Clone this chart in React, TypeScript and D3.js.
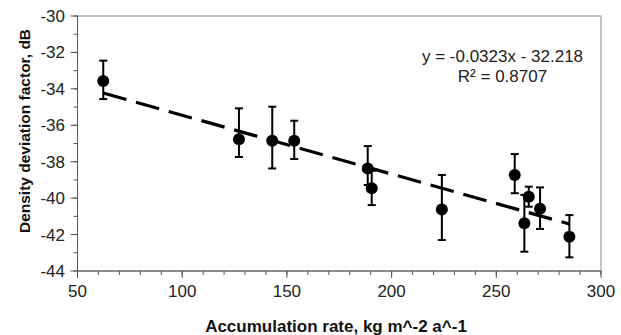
import React from "react";
import * as d3 from "d3";

const xValues = [62.3, 127.1, 143.0, 153.5, 188.6, 190.5, 224.0, 258.8, 265.5, 263.4, 270.9, 284.9];
const yValues = [-33.57, -36.77, -36.85, -36.85, -38.37, -39.46, -40.62, -38.73, -39.92, -41.38, -40.58, -42.12];
const errUpper = [-32.45, -35.07, -34.98, -35.75, -37.14, -38.5, -38.73, -37.58, -39.37, -39.82, -39.41, -40.93];
const errLower = [-34.56, -37.74, -38.37, -37.85, -39.28, -40.38, -42.3, -39.73, -40.47, -42.94, -41.69, -43.25];
const xTicks = [50, 100, 150, 200, 250, 300];
const yTicks = [-30, -32, -34, -36, -38, -40, -42, -44];
const slope = -0.0323;
const intercept = -32.218;
const eqLabel = "y = -0.0323x - 32.218";
const r2Label = "R\u00b2 = 0.8707";
const xTitle = "Accumulation rate, kg m^-2 a^-1";
const yTitle = "Density deviation factor, dB";

const W = 621, H = 335;
const L = 77.5, R = 601, T = 16, B = 271;

export default function App() {
  const x = d3.scaleLinear().domain([50, 300]).range([L, R]);
  const y = d3.scaleLinear().domain([-44, -30]).range([B, T]);
  const xMinor = d3.range(50, 301, 10);
  const yMinor = d3.range(-44, -29, 1);
  const xs = d3.extent(xValues) as [number, number];
  const trend = d3.line<number>().x((v) => x(v)).y((v) => y(slope * v + intercept))(xs) || "";
  const font = "Arial, 'Liberation Sans', sans-serif";
  return (
    <svg width={W} height={H} style={{ position: "absolute", left: 0, top: 0, background: "#fff" }}>
      <rect x={0} y={0} width={W} height={H} fill="#fff" />
      <rect x={L} y={T} width={R - L} height={B - T} fill="none" stroke="#8c8c8c" strokeWidth={1} />
      <line x1={L} x2={L} y1={T} y2={B} stroke="#555" strokeWidth={1} />
      <line x1={L} x2={R} y1={B} y2={B} stroke="#555" strokeWidth={1} />
      {yMinor.map((v) => (
        <line key={"ym" + v} x1={L - 4} x2={L} y1={y(v)} y2={y(v)} stroke="#555" />
      ))}
      {yTicks.map((v) => (
        <g key={"y" + v}>
          <line x1={L - 7} x2={L} y1={y(v)} y2={y(v)} stroke="#555" />
          <text x={65} y={y(v)} dy="0.35em" textAnchor="end" fontFamily={font} fontSize={17} fill="#222">{v}</text>
        </g>
      ))}
      {xMinor.map((v) => (
        <line key={"xm" + v} x1={x(v)} x2={x(v)} y1={B} y2={B + 4} stroke="#555" />
      ))}
      {xTicks.map((v) => (
        <g key={"x" + v}>
          <line x1={x(v)} x2={x(v)} y1={B} y2={B + 7} stroke="#555" />
          <text x={x(v)} y={291} dy="0.35em" textAnchor="middle" fontFamily={font} fontSize={17} fill="#222">{v}</text>
        </g>
      ))}
      <path d={trend} fill="none" stroke="#000" strokeWidth={3.2} strokeDasharray="24 10" />
      {xValues.map((v, i) => (
        <g key={"e" + i}>
          <line x1={x(v)} x2={x(v)} y1={y(errUpper[i])} y2={y(errLower[i])} stroke="#000" strokeWidth={2} />
          <line x1={x(v) - 4} x2={x(v) + 4} y1={y(errUpper[i])} y2={y(errUpper[i])} stroke="#000" strokeWidth={2} />
          <line x1={x(v) - 4} x2={x(v) + 4} y1={y(errLower[i])} y2={y(errLower[i])} stroke="#000" strokeWidth={2} />
        </g>
      ))}
      {xValues.map((v, i) => (
        <circle key={"p" + i} cx={x(v)} cy={y(yValues[i])} r={6} fill="#000" />
      ))}
      <text x={502.5} y={62} textAnchor="middle" fontFamily={font} fontSize={17} fill="#222">{eqLabel}</text>
      <text x={502.5} y={82} textAnchor="middle" fontFamily={font} fontSize={17} fill="#222">{r2Label}</text>
      <text x={336} y={332} textAnchor="middle" fontFamily={font} fontSize={17} fontWeight="bold" fill="#111">{xTitle}</text>
      <text transform={`translate(30,${131}) rotate(-90)`} textAnchor="middle" fontFamily={font} fontSize={15.5} fontWeight="bold" fill="#111">{yTitle}</text>
    </svg>
  );
}
